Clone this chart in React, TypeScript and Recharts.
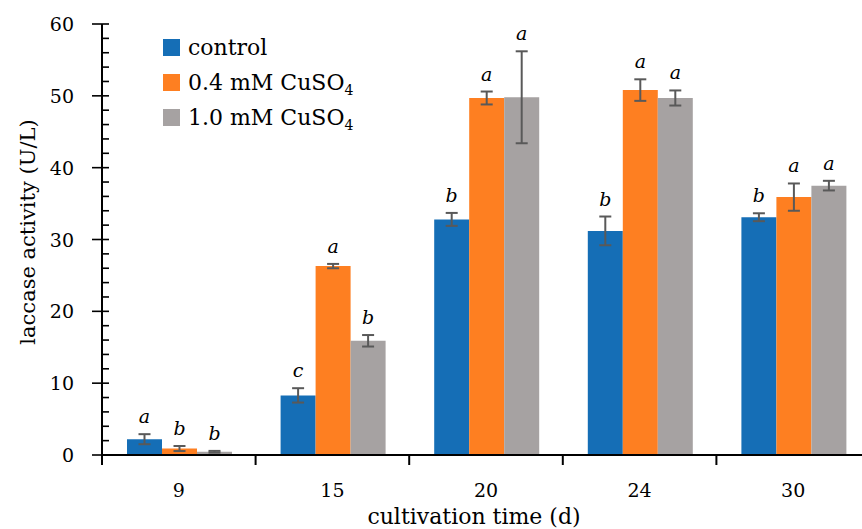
import React from 'react';
import { BarChart, Bar, XAxis, YAxis, ErrorBar, LabelList } from 'recharts';

const categories = ['9', '15', '20', '24', '30'];
const controlValues = [2.2, 8.3, 32.8, 31.2, 33.1];
const controlErrors = [0.7, 1.0, 0.9, 2.0, 0.55];
const cu04Values = [0.9, 26.3, 49.7, 50.8, 35.9];
const cu04Errors = [0.35, 0.3, 0.9, 1.5, 1.9];
const cu10Values = [0.45, 15.9, 49.8, 49.7, 37.5];
const cu10Errors = [0.12, 0.8, 6.4, 1.05, 0.67];
const controlLetters = ['a', 'c', 'b', 'b', 'b'];
const cu04Letters = ['b', 'a', 'a', 'a', 'a'];
const cu10Letters = ['b', 'b', 'a', 'a', 'a'];
const yTicks = [0, 2, 4, 6, 8, 10, 12, 14, 16, 18, 20, 22, 24, 26, 28, 30, 32, 34, 36, 38, 40, 42, 44, 46, 48, 50, 52, 54, 56, 58, 60];
const seriesNames = ['control', '0.4 mM CuSO', '1.0 mM CuSO'];
const seriesSubs = ['', '4', '4'];

const data = categories.map((c, i) => ({
  day: c,
  control: controlValues[i],
  controlErr: controlErrors[i],
  cu04: cu04Values[i],
  cu04Err: cu04Errors[i],
  cu10: cu10Values[i],
  cu10Err: cu10Errors[i],
}));

const BLUE = '#156EB6';
const ORANGE = '#FE7F21';
const GRAY = '#A6A2A2';
const ERR = '#595959';
const FONT = "'DejaVu Serif', serif";

const CHART_W = 870;
const CHART_H = 529;
const TOP = 24;
const AX = 102;
const X_AXIS_H = 74;
const AXIS_Y = CHART_H - X_AXIS_H;
const PLOT_H = AXIS_Y - TOP;
const Y_MAX = 60;
const PX = PLOT_H / Y_MAX;
const BAND = (CHART_W - AX) / categories.length;

const YTick = (props: any) => {
  const { y, payload } = props;
  const v = payload.value;
  const major = v % 10 === 0;
  return (
    <g>
      <line x1={major ? AX - 10 : AX} x2={AX + 7} y1={y} y2={y} stroke="#000" strokeWidth={1.6} />
      {major && (
        <text x={AX - 28} y={y} textAnchor="end" dominantBaseline="central" fontFamily={FONT} fontSize={19} fill="#000">
          {v}
        </text>
      )}
    </g>
  );
};

const XTick = (props: any) => {
  const { x, payload } = props;
  const left = x - BAND / 2;
  return (
    <g>
      <line x1={left} x2={left} y1={AXIS_Y} y2={AXIS_Y + 10} stroke="#000" strokeWidth={2} />
      <text x={x} y={AXIS_Y + 42} textAnchor="middle" fontFamily={FONT} fontSize={19} fill="#000">
        {payload.value}
      </text>
    </g>
  );
};

const makeLetter = (letters: string[], errs: number[]) => (props: any) => {
  const { x, y, width, index } = props;
  const capTop = Number(y) - errs[index] * PX;
  return (
    <text
      x={Number(x) + Number(width) / 2}
      y={capTop - 11}
      textAnchor="middle"
      fontFamily={FONT}
      fontStyle="italic"
      fontSize={19}
      fill="#000"
    >
      {letters[index]}
    </text>
  );
};

const colors = [BLUE, ORANGE, GRAY];

export default function App() {
  return (
    <div style={{ position: 'relative', width: 862, height: 529, overflow: 'hidden', background: '#fff' }}>
      <style>{'body{margin:0;overflow:hidden;}'}</style>
      <BarChart
        width={CHART_W}
        height={CHART_H}
        data={data}
        margin={{ top: TOP, right: 0, bottom: 0, left: 0 }}
        barCategoryGap={25}
        barGap={0}
      >
        <XAxis
          dataKey="day"
          height={X_AXIS_H}
          axisLine={{ stroke: '#000', strokeWidth: 2 }}
          tickLine={false}
          tick={<XTick />}
          interval={0}
        />
        <YAxis
          width={AX}
          domain={[0, Y_MAX]}
          ticks={yTicks}
          interval={0}
          axisLine={{ stroke: '#000', strokeWidth: 2 }}
          tickLine={false}
          tick={<YTick />}
          allowDataOverflow
        />
        <Bar dataKey="control" fill={BLUE} isAnimationActive={false}>
          <ErrorBar dataKey="controlErr" width={6} stroke={ERR} strokeWidth={2} />
          <LabelList dataKey="control" content={makeLetter(controlLetters, controlErrors)} />
        </Bar>
        <Bar dataKey="cu04" fill={ORANGE} isAnimationActive={false}>
          <ErrorBar dataKey="cu04Err" width={6} stroke={ERR} strokeWidth={2} />
          <LabelList dataKey="cu04" content={makeLetter(cu04Letters, cu04Errors)} />
        </Bar>
        <Bar dataKey="cu10" fill={GRAY} isAnimationActive={false}>
          <ErrorBar dataKey="cu10Err" width={6} stroke={ERR} strokeWidth={2} />
          <LabelList dataKey="cu10" content={makeLetter(cu10Letters, cu10Errors)} />
        </Bar>
      </BarChart>
      <svg width={862} height={529} style={{ position: 'absolute', left: 0, top: 0, pointerEvents: 'none' }}>
        {seriesNames.map((name, i) => (
          <g key={name}>
            <rect x={163} y={39 + i * 35} width={17} height={17} fill={colors[i]} />
            <text x={188} y={55 + i * 35} fontFamily={FONT} fontSize={22} fill="#000">
              {name}
              {seriesSubs[i] && (
                <tspan fontSize={14} dy={5}>
                  {seriesSubs[i]}
                </tspan>
              )}
            </text>
          </g>
        ))}
        <text
          x={28}
          y={232}
          transform="rotate(-90 28 232)"
          textAnchor="middle"
          dominantBaseline="central"
          fontFamily={FONT}
          fontSize={21}
          fill="#000"
        >
          laccase activity (U/L)
        </text>
        <text x={474} y={524} textAnchor="middle" fontFamily={FONT} fontSize={22} fill="#000">
          cultivation time (d)
        </text>
      </svg>
    </div>
  );
}
